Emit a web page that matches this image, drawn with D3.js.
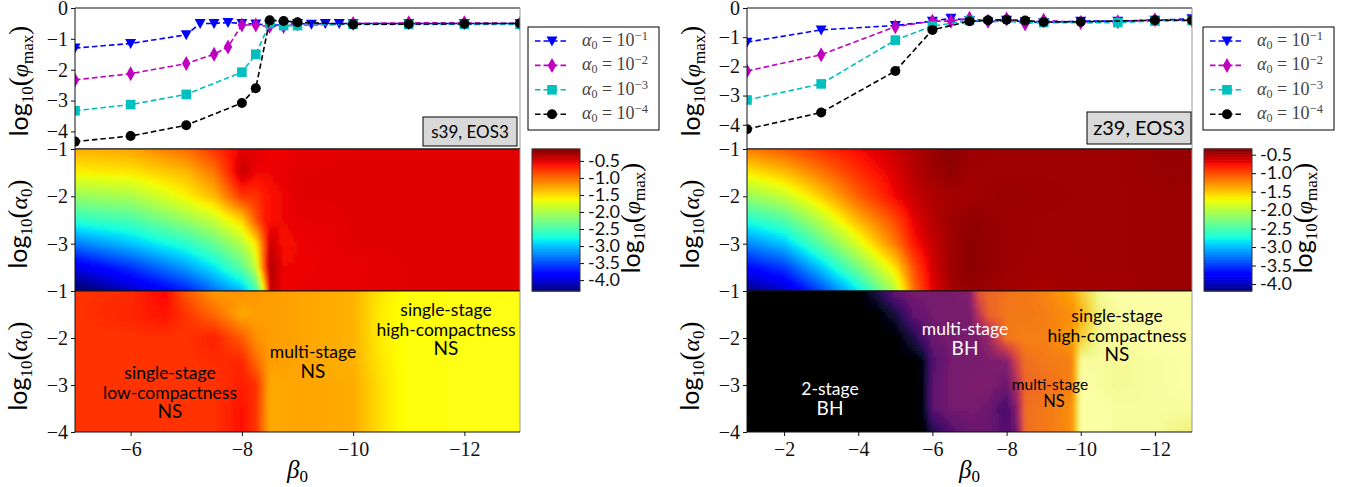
<!DOCTYPE html>
<html>
<head>
<meta charset="utf-8">
<script src="https://d3js.org/d3.v7.min.js"></script>
<style>
body { margin: 0; background: #fff; }
text { fill: #000; }
.serif { font-family: "Liberation Serif", serif; }
.sans { font-family: "Lato", sans-serif; }
</style>
</head>
<body>
<svg id="fig" width="1356" height="487"></svg>
<script>
// line panels : beta0 grid, one value array per alpha0 (null = no run there)
const betaS39 = [-5,-6,-7,-7.25,-7.5,-7.75,-8,-8.25,-8.5,-8.75,-9,-9.25,-9.5,-9.75,-10,-11,-12,-13];
const s39A1 = [-1.3,-1.15,-0.87,-0.5,-0.5,-0.47,-0.5,-0.52,-0.55,-0.55,-0.5,-0.53,-0.5,-0.5,-0.5,-0.5,-0.5,-0.5];
const s39A2 = [-2.33,-2.13,-1.8,null,-1.5,-1.26,-0.55,-0.55,-0.6,-0.6,-0.52,null,null,null,-0.5,-0.48,-0.48,-0.5];
const s39A3 = [-3.33,-3.13,-2.8,null,null,null,-2.08,-1.5,-0.5,-0.57,-0.57,null,null,null,-0.53,-0.53,-0.53,-0.53];
const s39A4 = [-4.33,-4.15,-3.8,null,null,null,-3.08,-2.6,-0.4,-0.42,-0.46,null,null,null,-0.53,-0.52,-0.51,-0.5];

const betaZ39 = [-1,-3,-5,-6,-6.5,-7,-7.5,-8,-8.5,-9,-10,-11,-12,-13];
const z39A1 = [-1.17,-0.75,-0.6,-0.45,-0.35,-0.43,-0.48,-0.42,-0.47,-0.5,-0.45,-0.45,-0.42,-0.37];
const z39A2 = [-2.16,-1.6,-0.64,-0.45,-0.45,-0.35,-0.45,-0.38,-0.55,-0.42,-0.5,-0.47,-0.4,-0.43];
const z39A3 = [-3.15,-2.6,-1.1,-0.62,null,-0.43,null,null,null,-0.5,null,-0.5,-0.45,-0.43];
const z39A4 = [-4.15,-3.58,-2.16,-0.75,null,-0.45,-0.42,-0.4,-0.43,-0.48,-0.47,null,-0.42,-0.42];

const alphaRows = [-1,-1.5,-2,-2.5,-3,-3.5,-4];

// log10(phi_max) maps
const phiColsS39 = [-5,-6,-7,-7.5,-8,-8.25,-8.4,-8.5,-8.75,-9,-10,-11,-12,-13];
const phiS39 = [
  [-1.3,-1.25,-1.0,-0.75,-0.5,-0.5,-0.52,-0.55,-0.55,-0.52,-0.5,-0.5,-0.5,-0.5],
  [-1.6,-1.55,-1.35,-1.05,-0.4,-0.55,-0.55,-0.55,-0.52,-0.5,-0.5,-0.5,-0.5,-0.5],
  [-2.1,-2.0,-1.6,-1.35,-0.75,-0.75,-0.65,-0.6,-0.55,-0.5,-0.5,-0.5,-0.5,-0.5],
  [-2.65,-2.5,-2.1,-1.85,-1.45,-0.9,-0.65,-0.6,-0.55,-0.52,-0.5,-0.5,-0.5,-0.5],
  [-3.3,-3.0,-2.65,-2.35,-1.95,-1.55,-0.9,-0.4,-0.6,-0.55,-0.5,-0.5,-0.5,-0.5],
  [-3.95,-3.6,-3.15,-2.85,-2.4,-1.9,-0.9,-0.3,-0.55,-0.55,-0.52,-0.5,-0.5,-0.5],
  [-4.45,-4.1,-3.7,-3.35,-3.05,-2.6,-1.6,-0.35,-0.55,-0.53,-0.52,-0.5,-0.5,-0.5]
];
const phiColsZ39 = [-1,-2,-3,-4,-5,-5.5,-6,-6.5,-7,-8,-9,-10,-11,-12,-13];
const phiZ39 = [
  [-1.2,-1.05,-0.88,-0.72,-0.58,-0.5,-0.43,-0.37,-0.44,-0.45,-0.45,-0.45,-0.45,-0.42,-0.4],
  [-1.65,-1.47,-1.18,-0.88,-0.65,-0.53,-0.45,-0.4,-0.45,-0.45,-0.45,-0.45,-0.45,-0.43,-0.42],
  [-2.15,-1.92,-1.52,-1.08,-0.72,-0.58,-0.5,-0.47,-0.46,-0.43,-0.44,-0.45,-0.45,-0.44,-0.43],
  [-2.7,-2.47,-1.98,-1.42,-0.98,-0.68,-0.52,-0.45,-0.4,-0.44,-0.45,-0.45,-0.45,-0.44,-0.43],
  [-3.2,-2.97,-2.42,-1.82,-1.18,-0.78,-0.58,-0.45,-0.38,-0.44,-0.45,-0.45,-0.45,-0.44,-0.43],
  [-3.7,-3.5,-2.95,-2.3,-1.6,-1.0,-0.62,-0.45,-0.38,-0.44,-0.46,-0.45,-0.45,-0.44,-0.43],
  [-4.2,-3.95,-3.45,-2.85,-2.0,-1.15,-0.68,-0.47,-0.42,-0.46,-0.48,-0.46,-0.46,-0.44,-0.43]
];

// collapse type maps, values are position on the colour map (0-1)
const typeColsS39 = [-5,-6,-6.6,-7,-7.5,-8,-8.25,-8.5,-9,-10,-10.5,-11,-13];
const typeS39 = [
  [0.44,0.43,0.37,0.50,0.60,0.58,0.59,0.60,0.61,0.63,0.71,0.76,0.77],
  [0.44,0.42,0.39,0.44,0.52,0.62,0.60,0.60,0.61,0.63,0.72,0.76,0.77],
  [0.44,0.44,0.44,0.44,0.41,0.50,0.58,0.60,0.61,0.63,0.72,0.76,0.77],
  [0.44,0.44,0.44,0.44,0.43,0.42,0.52,0.60,0.61,0.63,0.71,0.76,0.77],
  [0.44,0.44,0.44,0.44,0.44,0.41,0.43,0.62,0.61,0.62,0.70,0.76,0.77],
  [0.44,0.44,0.44,0.44,0.44,0.39,0.44,0.62,0.61,0.62,0.70,0.76,0.77],
  [0.44,0.44,0.44,0.44,0.44,0.39,0.44,0.62,0.61,0.62,0.70,0.76,0.77]
];
const typeColsZ39 = [-1,-4,-4.5,-5,-5.5,-5.75,-6,-6.5,-7,-7.25,-7.5,-8,-8.25,-8.5,-9,-9.75,-10,-10.5,-11,-12,-13];
const typeZ39 = [
  [0,0,0.12,0.3,0.33,0.33,0.33,0.33,0.36,0.62,0.66,0.69,0.7,0.7,0.73,0.8,0.88,0.98,1,1,1],
  [0,0,0,0.1,0.28,0.3,0.32,0.33,0.33,0.5,0.65,0.7,0.7,0.7,0.71,0.75,0.82,0.96,0.99,1,1],
  [0,0,0,0,0.12,0.22,0.3,0.33,0.33,0.34,0.4,0.7,0.71,0.72,0.72,0.78,0.88,0.98,0.99,1,1],
  [0,0,0,0,0,0.04,0.24,0.32,0.33,0.33,0.34,0.36,0.55,0.68,0.7,0.72,0.99,0.99,0.98,0.99,1],
  [0,0,0,0,0,0.03,0.27,0.33,0.34,0.35,0.35,0.3,0.45,0.66,0.68,0.72,1,0.99,0.98,0.99,1],
  [0,0,0,0,0,0.03,0.27,0.32,0.32,0.32,0.3,0.22,0.35,0.68,0.7,0.75,1,1,0.99,0.99,0.99],
  [0,0,0,0,0,0,0.12,0.24,0.3,0.3,0.3,0.24,0.3,0.68,0.7,0.75,1,1,0.99,0.99,0.95]
];

const alphaNames = ["1","2","3","4"];
const seriesColors = ["#0000ff","#bf00bf","#00bfbf","#000000"];
const cbarTicks = [-0.5,-1,-1.5,-2,-2.5,-3,-3.5,-4];
const betaTicksS39 = [-6,-8,-10,-12];
const betaTicksZ39 = [-2,-4,-6,-8,-10,-12];

// matplotlib jet and hot
const jetR = d3.scaleLinear().domain([0,0.35,0.66,0.89,1]).range([0,0,255,255,128]);
const jetG = d3.scaleLinear().domain([0,0.125,0.375,0.64,0.91,1]).range([0,0,255,255,0,0]);
const jetB = d3.scaleLinear().domain([0,0.11,0.34,0.65,1]).range([128,255,255,0,0]);
const jet = t => d3.rgb(jetR(t), jetG(t), jetB(t)).formatHex();
const hotR = d3.scaleLinear().domain([0,0.365,1]).range([11,255,255]).clamp(true);
const hotG = d3.scaleLinear().domain([0,0.365,0.746,1]).range([0,0,255,255]).clamp(true);
const hotB = d3.scaleLinear().domain([0,0.746,1]).range([0,0,255]).clamp(true);
const hot = t => d3.rgb(hotR(t), hotG(t), hotB(t)).formatHex();

const svg = d3.select("#fig");
const defs = svg.append("defs");
defs.append("filter").attr("id","smooth")
    .attr("filterUnits","userSpaceOnUse").attr("x",0).attr("y",0).attr("width",1356).attr("height",487)
    .append("feGaussianBlur").attr("stdDeviation",1.6);

let clipCount = 0;
function addClip(left, right, top, bottom){
    clipCount++;
    defs.append("clipPath").attr("id","clip"+clipCount)
        .append("rect").attr("x",left).attr("y",top).attr("width",right-left).attr("height",bottom-top);
    return "url(#clip"+clipCount+")";
}

// draws a value grid, cell by cell, bilinear between the read values
function drawMap(cols, grid, xScale, yScale, top, bottom, colorOf){
    let colIndex = d3.scaleLinear().domain(cols).range(d3.range(cols.length)).clamp(true);
    let rowIndex = d3.scaleLinear().domain(alphaRows).range(d3.range(alphaRows.length)).clamp(true);
    let [left, right] = xScale.range();
    let cells = [];
    let step = 3;
    for(let py = top-6; py < bottom+6; py += step){
        for(let px = left-6; px < right+6; px += step){
            let ci = colIndex(xScale.invert(px+step/2)), ri = rowIndex(yScale.invert(py+step/2));
            let c0 = Math.min(Math.floor(ci), cols.length-2), r0 = Math.min(Math.floor(ri), alphaRows.length-2);
            let fc = ci-c0, fr = ri-r0;
            let v = grid[r0][c0]*(1-fc)*(1-fr) + grid[r0][c0+1]*fc*(1-fr)
                  + grid[r0+1][c0]*(1-fc)*fr + grid[r0+1][c0+1]*fc*fr;
            cells.push({px:px, py:py, v:v});
        }
    }
    svg.append("g").attr("clip-path", addClip(left,right,top,bottom))
        .append("g").attr("filter","url(#smooth)")
        .selectAll("rect").data(cells).join("rect")
        .attr("x",d=>d.px).attr("y",d=>d.py)
        .attr("width",step+0.5).attr("height",step+0.5)
        .attr("shape-rendering","crispEdges")
        .attr("fill",d=>colorOf(d.v));
}

function frame(left, right, top, bottom){
    svg.append("line").attr("x1",left).attr("x2",right).attr("y1",top).attr("y2",top).attr("stroke","#111");
    svg.append("line").attr("x1",left).attr("x2",left).attr("y1",top).attr("y2",bottom).attr("stroke","#111");
    svg.append("line").attr("x1",right).attr("x2",right).attr("y1",top).attr("y2",bottom).attr("stroke","#999");
    svg.append("line").attr("x1",left).attr("x2",right).attr("y1",bottom).attr("y2",bottom).attr("stroke","#111");
}

function styleAxis(g, size){
    g.select(".domain").remove();
    g.selectAll("line").attr("stroke","#111").attr("stroke-width",1);
    g.selectAll("text").attr("class","serif").style("font-size",size+"px").style("fill","#111");
}

const fmtMinus = d => d === 0 ? "0" : "\u2212" + Math.abs(d);

function yLabel(x, y, inner, sub){
    let t = svg.append("text").attr("transform","translate("+x+","+y+") rotate(-90)")
        .attr("text-anchor","middle").attr("class","serif").style("font-size","24px");
    t.append("tspan").attr("class","sans").style("font-size","25px").text("log");
    t.append("tspan").style("font-size","17px").attr("dy",5).text("10");
    t.append("tspan").style("font-size","27px").attr("dy",-5).text("(");
    t.append("tspan").style("font-style","italic").text(inner);
    t.append("tspan").style("font-size","17px").attr("dy",5).text(sub);
    t.append("tspan").style("font-size","27px").attr("dy",-5).text(")");
}

function marker(g, i){
    if(i === 0) g.append("path").attr("d","M-5.5,-4.5L5.5,-4.5L0,5.5Z");
    if(i === 1) g.append("path").attr("d","M0,-7.5L4.2,0L0,7.5L-4.2,0Z");
    if(i === 2) g.append("rect").attr("x",-4.8).attr("y",-4.8).attr("width",9.6).attr("height",9.6);
    if(i === 3) g.append("circle").attr("r",5);
    g.attr("fill",seriesColors[i]);
}

function annotate(x, y, lines, color, size){
    lines.forEach(function(l, i){
        let big = l === "NS" || l === "BH";
        svg.append("text").attr("class","sans")
            .attr("x",x).attr("y",y + i*19.5)
            .attr("text-anchor","middle")
            .style("font-size", size ? size+"px" : (big ? "19px" : "17.5px"))
            .style("fill",color).text(l);
    });
}

function drawColumn(cfg){
    let {left, right, domainX} = cfg;
    let x = d3.scaleLinear().domain(domainX).range([left,right]);
    let yTop = d3.scaleLinear().domain([cfg.topMin,0]).range([149,8]);
    let yMid = d3.scaleLinear().domain([-4,-1]).range([291,149]);
    let yBot = d3.scaleLinear().domain([-4,-1]).range([432,291]);

    // top panel
    let clip = addClip(left,right,8,149);
    let lineGen = d3.line().x(d=>x(d[0])).y(d=>yTop(d[1]));
    cfg.series.forEach(function(values, i){
        let pts = cfg.betas.map((b,k)=>[b,values[k]]).filter(d=>d[1] !== null);
        let g = svg.append("g").attr("clip-path",clip);
        g.append("path").attr("d",lineGen(pts))
            .attr("fill","none").attr("stroke",seriesColors[i])
            .attr("stroke-width",1.6).attr("stroke-dasharray","5.5,3");
        pts.forEach(function(p){
            marker(g.append("g").attr("transform","translate("+x(p[0])+","+yTop(p[1])+")"), i);
        });
    });
    frame(left,right,8,149);
    svg.append("g").attr("transform","translate("+left+",0)")
        .call(d3.axisLeft(yTop).tickValues([0,-1,-2,-3,-4]).tickFormat(fmtMinus).tickSize(4).tickSizeOuter(0))
        .call(styleAxis,20);
    yLabel(left-47,81,"\u03C6","max");

    // label box
    svg.append("rect").attr("x",cfg.box[0]).attr("y",cfg.box[1]).attr("width",cfg.box[2]).attr("height",cfg.box[3])
        .attr("fill","#d9d9d9").attr("stroke","#000").attr("stroke-width",1);
    svg.append("text").attr("class","sans").attr("text-anchor","middle")
        .attr("x",cfg.box[0]+cfg.box[2]/2).attr("y",cfg.box[1]+cfg.box[3]/2+cfg.boxFont*0.36)
        .style("font-size",cfg.boxFont+"px").text(cfg.boxText);

    // legend
    let lx = cfg.legendX;
    svg.append("rect").attr("x",lx).attr("y",27).attr("width",131).attr("height",103)
        .attr("fill","#fff").attr("stroke","#000").attr("stroke-width",1);
    alphaNames.forEach(function(name, i){
        let ly = 41 + i*24.4;
        svg.append("line").attr("x1",lx+7).attr("x2",lx+41).attr("y1",ly).attr("y2",ly)
            .attr("stroke",seriesColors[i]).attr("stroke-width",1.6).attr("stroke-dasharray","5.5,3");
        marker(svg.append("g").attr("transform","translate("+(lx+24)+","+ly+")"), i);
        let t = svg.append("text").attr("class","serif").attr("x",lx+54).attr("y",ly+5).style("font-size","18px").style("fill","#444");
        t.append("tspan").style("font-style","italic").text("\u03B1");
        t.append("tspan").style("font-size","12px").attr("dy",3).text("0");
        t.append("tspan").attr("dy",-3).text(" = 10");
        t.append("tspan").style("font-size","12.5px").attr("dy",-6).text("\u2212"+name);
    });

    // phi map
    let phiColor = d3.scaleLinear().domain(cfg.phiDomain).range([0,1]).clamp(true);
    drawMap(cfg.phiCols, cfg.phi, x, yMid, 149, 291, v=>jet(phiColor(v)));
    frame(left,right,149,291);
    svg.append("g").attr("transform","translate("+left+",0)")
        .call(d3.axisLeft(yMid).tickValues([-1,-2,-3]).tickFormat(fmtMinus).tickSize(4).tickSizeOuter(0))
        .call(styleAxis,20);
    yLabel(left-48,224,"\u03B1","0");

    // colour bar
    let yBar = d3.scaleLinear().domain(cfg.phiDomain).range([291,149]);
    let barValues = d3.range(cfg.phiDomain[0], cfg.phiDomain[1], 0.02);
    svg.append("g").selectAll("rect").data(barValues).join("rect")
        .attr("x",cfg.barX).attr("width",48)
        .attr("y",d=>yBar(d+0.02)).attr("height",d=>yBar(d)-yBar(d+0.02)+0.6)
        .attr("fill",d=>jet(phiColor(d)));
    svg.append("rect").attr("x",cfg.barX).attr("y",149).attr("width",48).attr("height",142)
        .attr("fill","none").attr("stroke","#333");
    svg.append("g").attr("transform","translate("+(cfg.barX+48)+",0)")
        .call(d3.axisRight(yBar).tickValues(cbarTicks).tickFormat(d=>"-"+Math.abs(d).toFixed(1)).tickSize(4).tickSizeOuter(0))
        .call(styleAxis,18)
        .call(g=>g.selectAll("text").attr("class","sans").attr("x",8));
    yLabel(cfg.barX+108,218,"\u03C6","max");

    // type map
    drawMap(cfg.typeCols, cfg.type, x, yBot, 291, 432, cfg.typeColor);
    frame(left,right,291,432);
    svg.append("g").attr("transform","translate("+left+",0)")
        .call(d3.axisLeft(yBot).tickValues([-1,-2,-3,-4]).tickFormat(fmtMinus).tickSize(4).tickSizeOuter(0))
        .call(styleAxis,20);
    yLabel(left-48,366,"\u03B1","0");
    svg.append("g").attr("transform","translate(0,432)")
        .call(d3.axisBottom(x).tickValues(cfg.xTicks).tickFormat(fmtMinus).tickSize(4).tickSizeOuter(0))
        .call(styleAxis,20)
        .call(g=>g.selectAll("text").attr("dy","0.85em"));
    let xl = svg.append("text").attr("class","serif").attr("text-anchor","middle")
        .attr("x",(left+right)/2).attr("y",478).style("font-size","25px");
    xl.append("tspan").style("font-style","italic").text("\u03B2");
    xl.append("tspan").style("font-size","17px").attr("dy",4).text("0");

    cfg.notes.forEach(n=>annotate(n[0],n[1],n[2],n[3],n[4]));
}

drawColumn({
    left:75, right:520, domainX:[-5,-13], topMin:-4.57, betas:betaS39,
    series:[s39A1,s39A2,s39A3,s39A4],
    box:[423,117,94,29], boxFont:17, boxText:"s39, EOS3",
    legendX:528, barX:532, phiDomain:[-4.32,-0.15],
    phiCols:phiColsS39, phi:phiS39,
    typeCols:typeColsS39, type:typeS39, typeColor:hot,
    xTicks:betaTicksS39,
    notes:[
        [170,379,["single-stage","low-compactness","NS"],"#000"],
        [313,358,["multi-stage","NS"],"#000"],
        [446,316,["single-stage","high-compactness","NS"],"#000"]
    ]
});

drawColumn({
    left:747, right:1192, domainX:[-1,-13], topMin:-4.83, betas:betaZ39,
    series:[z39A1,z39A2,z39A3,z39A4],
    box:[1087,112,104,32], boxFont:20, boxText:"z39, EOS3",
    legendX:1203, barX:1204, phiDomain:[-4.19,-0.346],
    phiCols:phiColsZ39, phi:phiZ39,
    typeCols:typeColsZ39, type:typeZ39, typeColor:d3.interpolateInferno,
    xTicks:betaTicksZ39,
    notes:[
        [830,395,["2-stage","BH"],"#fff"],
        [965,335,["multi-stage","BH"],"#fff"],
        [1050,390,["multi-stage"],"#000",15.5],
        [1054,407,["NS"],"#000",16.5],
        [1117,322,["single-stage","high-compactness","NS"],"#000"]
    ]
});
</script>
</body>
</html>
